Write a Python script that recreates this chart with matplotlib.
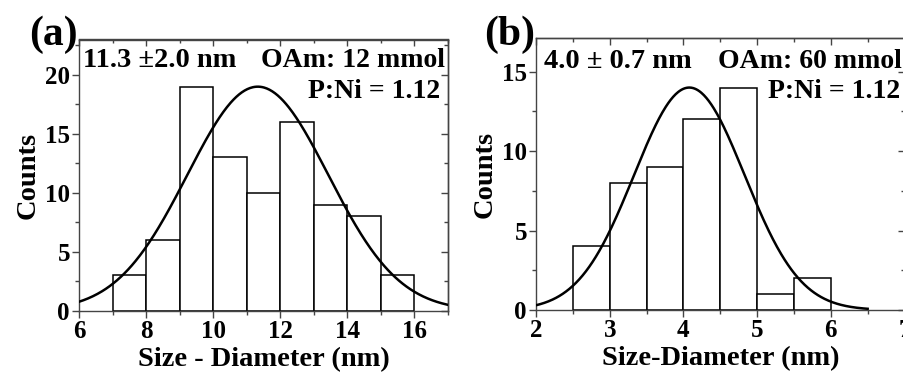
import numpy as np
import matplotlib
matplotlib.use("Agg")
import matplotlib.pyplot as plt
from matplotlib.ticker import MultipleLocator

plt.rcParams['font.family'] = ['Liberation Serif', 'DejaVu Serif']
plt.rcParams['font.weight'] = 'bold'

# Panel (a): OAm 12 mmol
a_edges = [7, 8, 9, 10, 11, 12, 13, 14, 15, 16]
a_counts = [3, 6, 19, 13, 10, 16, 9, 8, 3]
a_fit_mu, a_fit_sigma, a_fit_amp = 11.33, 2.1, 19.0
a_fit_range = (6.0, 17.0)

# Panel (b): OAm 60 mmol
b_edges = [2.5, 3.0, 3.5, 4.0, 4.5, 5.0, 5.5, 6.0]
b_counts = [4, 8, 9, 12, 14, 1, 2]
b_fit_mu, b_fit_sigma, b_fit_amp = 4.08, 0.75, 14.0
b_fit_range = (2.0, 6.5)

W, H = 904, 372
fig = plt.figure(figsize=(W / 100, H / 100), dpi=100)


def px_axes(l, t, r, b):
    return fig.add_axes([l / W, 1 - b / H, (r - l) / W, (b - t) / H])


def gauss(x, mu, sig, amp):
    return amp * np.exp(-(x - mu) ** 2 / (2 * sig ** 2))


def style_ticks(axis_obj, maj, mnr):
    axis_obj.set_major_locator(MultipleLocator(maj))
    axis_obj.set_minor_locator(MultipleLocator(mnr))


def draw_panel(ax, edges, counts, fit, frange, xlim, ylim, xmaj, xmin, ymaj, ymin, xlabel):
    edges = np.asarray(edges)
    ax.bar(edges[:-1], counts, width=np.diff(edges), align='edge',
           facecolor='white', edgecolor='black', linewidth=1.1, zorder=2)
    xs = np.linspace(frange[0], frange[1], 400)
    ax.plot(xs, gauss(xs, *fit), color='black', lw=1.8, zorder=3)
    ax.set_xlim(*xlim)
    ax.set_ylim(*ylim)
    style_ticks(ax.xaxis, xmaj, xmin)
    style_ticks(ax.yaxis, ymaj, ymin)
    for s in ax.spines.values():
        s.set_color('#444444')
        s.set_linewidth(1.0)
    ax.tick_params(which='major', direction='out', length=5, width=1,
                   color='#444444', labelsize=18, pad=1.5)
    ax.tick_params(which='minor', direction='out', length=3, width=1,
                   color='#444444')
    ax.set_xlabel(xlabel, fontsize=20.5, fontweight='bold', labelpad=3)
    ax.set_ylabel('Counts', fontsize=20.5, fontweight='bold', labelpad=3)
    # inward ticks on the top and right frame
    top = ax.secondary_xaxis('top')
    right = ax.secondary_yaxis('right')
    style_ticks(top.xaxis, xmaj, xmin)
    style_ticks(right.yaxis, ymaj, ymin)
    top.tick_params(which='both', labeltop=False, labelbottom=False)
    right.tick_params(which='both', labelright=False, labelleft=False)
    for sec in (top, right):
        sec.tick_params(which='major', direction='in', length=5, width=1,
                        color='#444444')
        sec.tick_params(which='minor', direction='in', length=3, width=1,
                        color='#444444')
        for s in sec.spines.values():
            s.set_color('#444444')
            s.set_linewidth(1.0)


axa = px_axes(79, 39.5, 448, 310.7)
draw_panel(axa, a_edges, a_counts, (a_fit_mu, a_fit_sigma, a_fit_amp), a_fit_range,
           (6, 17), (0, 23), 2, 1, 5, 2.5, 'Size - Diameter (nm)')

axb = px_axes(536, 38.3, 904.5, 310.0)
draw_panel(axb, b_edges, b_counts, (b_fit_mu, b_fit_sigma, b_fit_amp), b_fit_range,
           (2, 7), (0, 17.1), 1, 0.5, 5, 2.5, 'Size-Diameter (nm)')


def ftext(x, y, s, size, align):
    fig.text(x / W, 1 - y / H, s, fontsize=size, fontweight='bold',
             horizontalalignment=align, verticalalignment='baseline')


ftext(29, 45, '(a)', 30, 'left')
ftext(484, 45, '(b)', 30, 'left')
ftext(83, 67, '11.3 \u00b12.0 nm', 20.5, 'left')
ftext(445, 67, 'OAm: 12 mmol', 20, 'right')
ftext(440, 98, 'P:Ni = 1.12', 20, 'right')
ftext(544, 68, '4.0 \u00b1 0.7 nm', 20.5, 'left')
ftext(902, 68, 'OAm: 60 mmol', 20, 'right')
ftext(900, 98, 'P:Ni = 1.12', 20, 'right')

fig.savefig('out.png', dpi=100)
